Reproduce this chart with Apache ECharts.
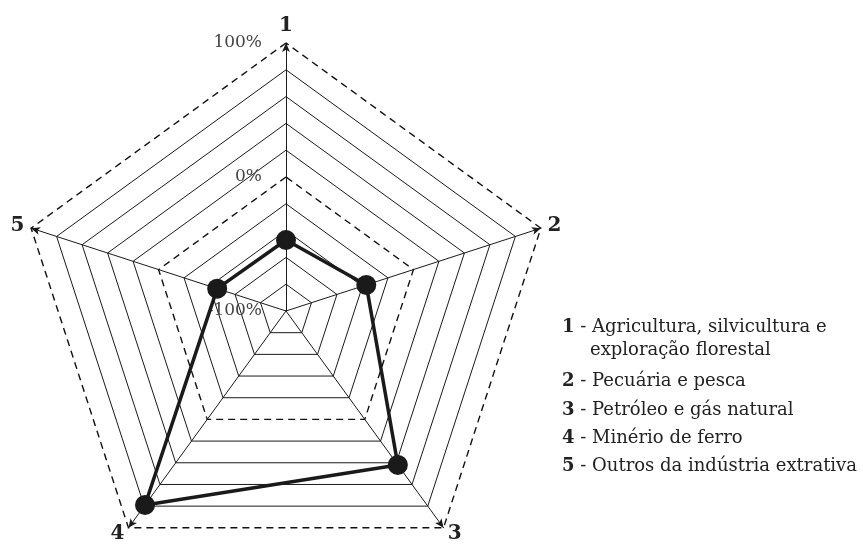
<!DOCTYPE html>
<html>
<head>
<meta charset="utf-8">
<script src="https://cdn.jsdelivr.net/npm/echarts@6/dist/echarts.min.js"></script>
<style>
  html, body { margin: 0; padding: 0; background: #fff; }
  #main { width: 863px; height: 546px; }
</style>
</head>
<body>
<div id="main"></div>
<script>
  // setores, na ordem dos eixos (1 em cima, depois sentido horario)
  var axisNames = ['1', '2', '3', '4', '5'];
  var values = [-47, -37, 42, 79, -46];
  var ringLabels = [-100, 0, 100];
  var legendNums = ['1', '', '2', '3', '4', '5'];
  var legendTexts = [
    'Agricultura, silvicultura e',
    'exploração florestal',
    'Pecuária e pesca',
    'Petróleo e gás natural',
    'Minério de ferro',
    'Outros da indústria extrativa'
  ];

  var FONT = 'DejaVu Serif';
  // radar do echarts vai no sentido anti-horario, entao reordena
  var order = [0, 4, 3, 2, 1];

  var myChart = echarts.init(document.getElementById('main'));

  function indicators(withLabel) {
    return order.map(function (k, i) {
      var ind = { name: axisNames[k], min: -100, max: 100 };
      if (withLabel) {
        ind.axisLabel = { show: i === 0 };
      }
      return ind;
    });
  }

  // linhas finas: 10 aneis, o 0% e o 100% ficam por conta do radar tracejado
  var ringColors = [];
  for (var i = 0; i <= 10; i++) {
    ringColors.push(i === 5 || i === 10 ? 'transparent' : '#1a1a1a');
  }

  var legendY = [327, 350, 381, 410, 438, 466];
  var titles = legendTexts.map(function (t, i) {
    var txt = legendNums[i] ? '{b|' + legendNums[i] + '} - ' + t : t;
    return {
      text: txt,
      left: legendNums[i] ? 562 : 590,
      top: legendY[i] - 11,
      padding: 0,
      textStyle: {
        fontFamily: FONT, fontSize: 18, fontWeight: 'normal', color: '#222', lineHeight: 22,
        rich: { b: { fontFamily: FONT, fontSize: 18, fontWeight: 'bold', color: '#222', lineHeight: 22 } }
      }
    };
  });

  var option = {
    animation: false,
    backgroundColor: '#fff',
    title: titles,
    radar: [{
      center: [286, 311],
      radius: 268,
      splitNumber: 10,
      shape: 'polygon',
      indicator: indicators(false),
      axisName: { color: '#222', fontFamily: FONT, fontSize: 20, fontWeight: 'bold' },
      nameGap: 7,
      splitArea: { show: false },
      splitLine: { lineStyle: { color: ringColors, width: 1 } },
      axisLine: {
        symbol: ['none', 'arrow'],
        symbolSize: [6, 9],
        lineStyle: { color: '#1a1a1a', width: 1 }
      }
    }, {
      center: [286, 311],
      radius: 268,
      splitNumber: 2,
      shape: 'polygon',
      indicator: indicators(true),
      axisName: { show: false },
      splitArea: { show: false },
      splitLine: { lineStyle: { color: ['transparent', '#111', '#111'], width: 1.4, type: [7, 5] } },
      axisLine: { show: false },
      axisTick: { show: false },
      axisLabel: {
        show: false,
        formatter: function (v) { return ringLabels.indexOf(v) >= 0 ? v + '%' : ''; },
        fontFamily: FONT, fontSize: 17, color: '#444',
        align: 'right', margin: 24
      }
    }],
    series: [{
      type: 'radar',
      radarIndex: 0,
      symbol: 'circle',
      symbolSize: 20,
      lineStyle: { color: '#1a1a1a', width: 3.5 },
      itemStyle: { color: '#1a1a1a' },
      data: [{ value: order.map(function (k) { return values[k]; }) }]
    }]
  };

  myChart.setOption(option);
</script>
</body>
</html>
